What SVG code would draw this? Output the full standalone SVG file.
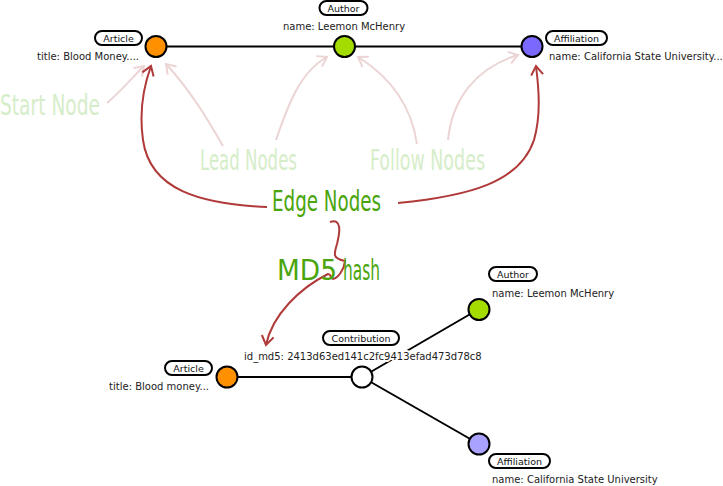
<svg xmlns="http://www.w3.org/2000/svg" width="723" height="486" viewBox="0 0 723 486">
<defs>
<style>
.pill{fill:#fff;stroke:#000;stroke-width:2}
.pt{font-family:"DejaVu Sans",sans-serif;font-size:9.5px;fill:#111;text-anchor:middle}
.prop{font-family:"DejaVu Sans",sans-serif;font-size:10px;fill:#222;paint-order:stroke;stroke:#fff;stroke-width:4px;stroke-linejoin:round}
.node{stroke:#000;stroke-width:2}
.edge{stroke:#000;stroke-width:2;fill:none}
.soft{stroke:#ecd4d4;stroke-width:2;fill:none;marker-end:url(#ms)}
.hard{stroke:#b03a3a;stroke-width:2;fill:none;marker-end:url(#mh)}
.hand{font-family:"DejaVu Sans Condensed","DejaVu Sans",sans-serif;font-size:28px;font-weight:300}
.lite{fill:#d6edc9}
.dark{fill:#4aa50c}
</style>
<marker id="ms" markerUnits="userSpaceOnUse" markerWidth="20" markerHeight="20" refX="0" refY="0" viewBox="-12 -10 14 20" orient="auto">
<path d="M-9,-6 L0,0 L-9,6" fill="none" stroke="#ecd4d4" stroke-width="2"/>
</marker>
<marker id="mh" markerUnits="userSpaceOnUse" markerWidth="20" markerHeight="20" refX="0" refY="0" viewBox="-12 -10 14 20" orient="auto">
<path d="M-9,-6 L0,0 L-9,6" fill="none" stroke="#b03a3a" stroke-width="2"/>
</marker>
</defs>
<rect width="723" height="486" fill="#fff"/>

<g id="connectors">
<line class="edge" x1="156" y1="46.5" x2="532" y2="46.5"/>
<line class="edge" x1="227" y1="377" x2="362" y2="377"/>
<line class="edge" x1="362" y1="377" x2="479" y2="309"/>
<line class="edge" x1="362" y1="377" x2="479" y2="444"/>
</g>

<g id="annotations">
<path class="soft" d="M107,103 C120,92 132,78 144,66"/>
<path class="soft" d="M223,146 C207,118 190,90 166,64"/>
<path class="soft" d="M276,140 C288,105 300,72 327,57"/>
<path class="soft" d="M417,144 C412,110 395,80 358,57"/>
<path class="soft" d="M448,140 C452,100 475,68 518,55"/>
<path class="hard" d="M267,207 C200,204 150,190 143,140 C139,112 143,88 151,66"/>
<path class="hard" d="M398,203 C470,196 520,182 534,140 C541,115 539,90 536,66"/>
<path class="hard" d="M330,222 C342,218 340,232 337,244 C334,254 332,258 345,261 C344,270 338,278 333,279 C330,277 331,274 328,274 C300,288 272,315 266,345"/>
</g>

<g id="n-article-top">
<circle class="node" cx="156" cy="46.5" r="10.5" fill="#ff9000"/>
<rect class="pill" x="95" y="31" width="47" height="14" rx="7"/>
<text class="pt" x="118.5" y="41.5">Article</text>
<text class="prop" x="139" y="60" text-anchor="end">title: Blood Money....</text>
</g>
<g id="n-author-top">
<circle class="node" cx="344.5" cy="46.5" r="10.5" fill="#a5dc00"/>
<rect class="pill" x="319.5" y="1" width="48" height="14" rx="7"/>
<text class="pt" x="343.5" y="11.5">Author</text>
<text class="prop" x="344" y="30" text-anchor="middle">name: Leemon McHenry</text>
</g>
<g id="n-affiliation-top">
<circle class="node" cx="532" cy="46.5" r="10.5" fill="#7b69ff"/>
<rect class="pill" x="546" y="31" width="61" height="14" rx="7"/>
<text class="pt" x="576.5" y="41.5">Affiliation</text>
<text class="prop" x="549" y="60">name: California State University...</text>
</g>

<g id="n-article-bottom">
<circle class="node" cx="227" cy="377" r="10.5" fill="#ff9000"/>
<rect class="pill" x="165" y="361" width="47" height="14" rx="7"/>
<text class="pt" x="188.5" y="371.5">Article</text>
<text class="prop" x="209" y="390" text-anchor="end">title: Blood money...</text>
</g>
<g id="n-contribution">
<circle class="node" cx="362" cy="377" r="10.5" fill="#fff"/>
<rect class="pill" x="323" y="331" width="76" height="14" rx="7"/>
<text class="pt" x="361" y="341.5">Contribution</text>
<text class="prop" x="244" y="360">id_md5: 2413d63ed141c2fc9413efad473d78c8</text>
</g>
<g id="n-author-bottom">
<circle class="node" cx="479" cy="309.5" r="10.5" fill="#a5dc00"/>
<rect class="pill" x="489" y="267" width="48" height="14" rx="7"/>
<text class="pt" x="513" y="277.5">Author</text>
<text class="prop" x="492" y="297">name: Leemon McHenry</text>
</g>
<g id="n-affiliation-bottom">
<circle class="node" cx="479" cy="444" r="10.5" fill="#aaa2ff"/>
<rect class="pill" x="489" y="454" width="61" height="14" rx="7"/>
<text class="pt" x="519.5" y="464.5">Affiliation</text>
<text class="prop" x="492" y="483">name: California State University</text>
</g>

<g id="labels">
<text class="hand lite" x="0" y="115" textLength="100" lengthAdjust="spacingAndGlyphs">Start Node</text>
<text class="hand lite" x="200" y="170" textLength="97" lengthAdjust="spacingAndGlyphs">Lead Nodes</text>
<text class="hand lite" x="370" y="170" textLength="115" lengthAdjust="spacingAndGlyphs">Follow Nodes</text>
<text class="hand dark" x="272" y="211" textLength="109" lengthAdjust="spacingAndGlyphs">Edge Nodes</text>
<text class="hand dark" y="280"><tspan x="277" textLength="60" lengthAdjust="spacingAndGlyphs">MD5</tspan> <tspan x="343" textLength="37" lengthAdjust="spacingAndGlyphs">hash</tspan></text>
</g>
</svg>
